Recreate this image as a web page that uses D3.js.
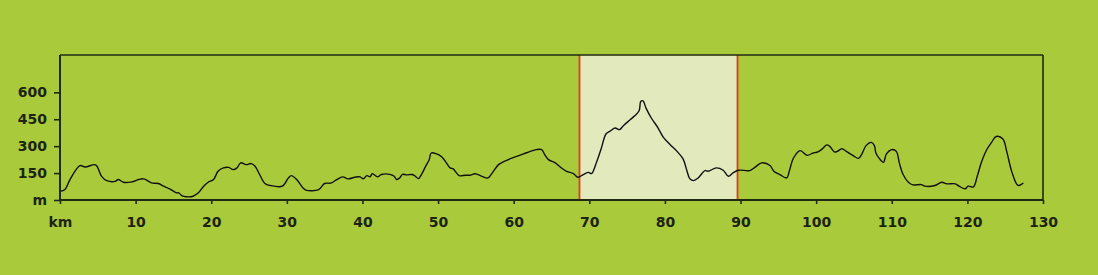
<!DOCTYPE html>
<html>
<head>
<meta charset="utf-8">
<script src="https://cdn.jsdelivr.net/npm/d3@7"></script>
<style>
  html, body { margin: 0; padding: 0; background: #a9ca3b; }
  #chart { width: 1098px; height: 275px; }
</style>
</head>
<body>
<div id="chart"></div>
<script>
// profile: distance in km, altitude in m
const km = [0, 0.66, 1.32, 2.64, 3.3, 4.6, 4.9, 5.5, 6.2, 7.3, 7.7, 8.4, 9.5, 10.4, 11.0, 11.5, 12.1, 13.0, 13.7, 14.5, 15.4, 15.7, 16.1, 16.7, 17.6, 18.3, 19.0, 19.6, 20.3, 20.9, 21.6, 22.3, 22.9, 23.4, 23.9, 24.6, 25.3, 25.8, 26.4, 27.1, 27.8, 29.4, 30.2, 30.6, 31.3, 32.2, 32.6, 34.2, 35.0, 35.9, 36.6, 37.4, 38.1, 39.0, 39.7, 40.1, 40.6, 41.0, 41.3, 42.0, 42.5, 43.6, 44.2, 44.5, 44.9, 45.3, 45.8, 46.6, 47.0, 47.4, 47.8, 48.4, 48.8, 49.1, 49.8, 50.5, 51.1, 51.6, 52.0, 52.8, 53.6, 54.2, 54.9, 55.8, 56.6, 57.1, 58.0, 58.6, 59.5, 60.4, 61.3, 62.2, 63.0, 63.7, 64.1, 64.6, 65.5, 66.3, 67.0, 67.9, 68.5, 69.2, 69.9, 70.3, 71.0, 71.6, 72.2, 72.7, 73.4, 74.0, 74.5, 75.4, 76.0, 76.6, 76.8, 77.1, 77.5, 78.2, 79.1, 79.8, 80.7, 81.6, 82.4, 82.9, 83.3, 83.8, 84.4, 85.3, 85.7, 86.8, 87.7, 88.4, 89.0, 89.7, 91.2, 91.9, 92.8, 93.9, 94.4, 95.2, 96.1, 96.5, 97.0, 97.9, 98.8, 99.6, 100.1, 100.7, 101.4, 101.8, 102.4, 102.8, 103.4, 104.0, 104.9, 105.6, 106.0, 106.6, 107.3, 107.7, 107.9, 108.4, 108.9, 109.3, 110.0, 110.6, 111.0, 111.5, 112.2, 112.8, 113.9, 114.4, 115.7, 116.6, 117.3, 118.4, 118.9, 119.7, 120.1, 120.8, 121.3, 121.9, 122.6, 123.2, 123.8, 124.7, 125.2, 125.9, 126.7, 127.4];
const alt = [49, 58, 114, 192, 184, 197, 188, 132, 108, 104, 114, 99, 101, 114, 118, 110, 95, 92, 77, 62, 40, 40, 25, 18, 21, 40, 77, 99, 114, 160, 179, 182, 169, 179, 207, 197, 203, 188, 142, 92, 81, 77, 123, 136, 114, 64, 54, 58, 92, 95, 114, 129, 118, 127, 129, 118, 136, 129, 146, 129, 142, 143, 132, 114, 123, 143, 140, 142, 132, 119, 142, 192, 221, 262, 257, 240, 207, 179, 173, 136, 138, 138, 146, 132, 123, 147, 197, 212, 229, 243, 257, 271, 281, 281, 253, 225, 207, 179, 160, 147, 127, 142, 154, 147, 216, 290, 368, 382, 401, 392, 414, 447, 469, 499, 549, 553, 512, 457, 401, 349, 308, 271, 229, 164, 118, 108, 123, 164, 160, 179, 166, 132, 151, 166, 164, 182, 207, 192, 160, 142, 123, 169, 234, 275, 249, 262, 266, 281, 307, 299, 268, 271, 286, 271, 247, 232, 253, 303, 321, 303, 262, 229, 210, 257, 281, 271, 207, 142, 99, 84, 86, 77, 81, 99, 90, 90, 77, 62, 77, 73, 132, 216, 284, 321, 354, 340, 271, 154, 81, 95];

const xTicks = [10, 20, 30, 40, 50, 60, 70, 80, 90, 100, 110, 120, 130];
const yTicks = [150, 300, 450, 600];
const stage = [68.7, 89.6];   // highlighted section, km

const profile = km.map((d, i) => ({ km: d, alt: alt[i] }));

const svg = d3.select("#chart")
    .append("svg")
    .attr("width", 1098)
    .attr("height", 275);

const margin = { top: 55, right: 55, bottom: 75, left: 60 };
const width = 1098 - margin.left - margin.right;
const height = 275 - margin.top - margin.bottom;

const g = svg.append("g")
    .attr("transform", `translate(${margin.left},${margin.top})`);

const x = d3.scaleLinear().domain([0, 130]).range([0, width]);
const y = d3.scaleLinear().domain([0, 808]).range([height, 0]);

// highlighted stage
g.append("rect")
    .attr("x", x(stage[0]))
    .attr("y", 0)
    .attr("width", x(stage[1]) - x(stage[0]))
    .attr("height", height)
    .attr("fill", "#e1e9bd");

g.selectAll(".stage-line")
    .data(stage)
    .join("line")
    .attr("class", "stage-line")
    .attr("x1", d => x(d))
    .attr("x2", d => x(d))
    .attr("y1", 0)
    .attr("y2", height)
    .attr("stroke", "#dc3d22")
    .attr("stroke-width", 1.8);

// frame top and right
g.append("line")
    .attr("x1", 0).attr("x2", width)
    .attr("y1", 0).attr("y2", 0)
    .attr("stroke", "#1f2a10").attr("stroke-width", 1.6);
g.append("line")
    .attr("x1", width).attr("x2", width)
    .attr("y1", 0).attr("y2", height)
    .attr("stroke", "#1f2a10").attr("stroke-width", 1.6);

// profile line
const line = d3.line()
    .x(d => x(d.km))
    .y(d => y(d.alt))
    .curve(d3.curveCatmullRom.alpha(0.5));

g.append("path")
    .datum(profile)
    .attr("fill", "none")
    .attr("stroke", "#111")
    .attr("stroke-width", 1.4)
    .attr("d", line);

const fontFamily = "'DejaVu Sans', sans-serif";

// x axis
const xAxis = g.append("g")
    .attr("transform", `translate(0,${height})`)
    .call(d3.axisBottom(x).tickValues([0].concat(xTicks))
        .tickFormat(d => d === 0 ? "km" : d)
        .tickSize(4).tickPadding(13));

// y axis
const yAxis = g.append("g")
    .call(d3.axisLeft(y).tickValues([0].concat(yTicks))
        .tickFormat(d => d === 0 ? "m" : d)
        .tickSize(6).tickPadding(7));

[xAxis, yAxis].forEach(ax => {
    ax.select(".domain").attr("stroke", "#1f2a10").attr("stroke-width", 2);
    ax.selectAll(".tick line").attr("stroke", "#1f2a10").attr("stroke-width", 1.6);
    ax.selectAll("text")
        .attr("fill", "#1c2410")
        .style("font-family", fontFamily)
        .style("font-weight", "bold")
        .style("font-size", "14px");
});
xAxis.select(".domain").attr("d", `M0,0H${width}`);
yAxis.select(".domain").attr("d", `M0,${height}V0`);
</script>
</body>
</html>
